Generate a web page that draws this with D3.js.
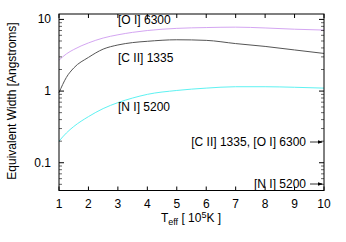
<!DOCTYPE html>
<html>
<head>
<meta charset="utf-8">
<script src="https://cdn.jsdelivr.net/npm/d3@7"></script>
<style>
  body { margin: 0; background: #fff; }
  text { font-family: "Liberation Sans", Arial, sans-serif; font-size: 12px; fill: #000; }
</style>
</head>
<body>
<svg id="chart" width="346" height="242"></svg>
<script>
var temps = [1, 1.25, 1.5, 2, 2.5, 3, 3.5, 4, 5, 6, 7, 8, 9, 10];
var oiValues = [2.7, 3.3, 3.8, 4.7, 5.5, 6.1, 6.6, 7.0, 7.5, 7.7, 7.8, 7.6, 7.3, 7.1];
var ciiValues = [0.95, 1.55, 2.1, 2.95, 3.85, 4.4, 4.75, 4.95, 5.2, 5.1, 4.6, 4.2, 3.75, 3.35];
var niValues = [0.2, 0.26, 0.32, 0.44, 0.57, 0.69, 0.8, 0.9, 1.02, 1.1, 1.15, 1.15, 1.13, 1.1];
var xTicks = [1, 2, 3, 4, 5, 6, 7, 8, 9, 10];
var yTicks = [0.1, 1, 10];

var series = [
	{ name: "[O I] 6300", values: oiValues, color: "#d4a6f2" },
	{ name: "[C II] 1335", values: ciiValues, color: "#555555" },
	{ name: "[N I] 5200", values: niValues, color: "#5ef2f2" }
];

var svg = d3.select("#chart");
var padL = 59, padR = 324, padT = 14, padB = 190.5;

var x = d3.scaleLinear().domain([1, 10]).range([padL, padR]);
var y = d3.scaleLog().domain([0.041, 11.9]).range([padB, padT]);

// minor ticks for log axis
var minor = [];
[0.01, 0.1, 1, 10].forEach(function(d){
	for (var k = 2; k <= 9; k++) {
		var v = d * k;
		if (v > 0.041 && v < 11.9) minor.push(v);
	}
});

var g = svg.append("g");

// curves
var line = d3.line()
	.x(function(d){ return x(d[0]); })
	.y(function(d){ return y(d[1]); })
	.curve(d3.curveMonotoneX);

series.forEach(function(s){
	g.append("path")
		.datum(temps.map(function(t, i){ return [t, s.values[i]]; }))
		.attr("d", line)
		.attr("fill", "none")
		.attr("stroke", s.color)
		.attr("stroke-width", 1);
});

// ticks
xTicks.forEach(function(t){
	g.append("line").attr("x1", x(t)).attr("x2", x(t)).attr("y1", padB).attr("y2", padB - 4).attr("stroke", "#000");
	g.append("line").attr("x1", x(t)).attr("x2", x(t)).attr("y1", padT).attr("y2", padT + 4).attr("stroke", "#000");
	g.append("text").attr("x", x(t)).attr("y", 208).attr("text-anchor", "middle").text(t);
});
yTicks.forEach(function(t){
	g.append("line").attr("x1", padL).attr("x2", padL + 5).attr("y1", y(t)).attr("y2", y(t)).attr("stroke", "#000");
	g.append("line").attr("x1", padR).attr("x2", padR - 5).attr("y1", y(t)).attr("y2", y(t)).attr("stroke", "#000");
	g.append("text").attr("x", 51).attr("y", y(t) + 4).attr("text-anchor", "end").text(t);
});
minor.forEach(function(t){
	g.append("line").attr("x1", padL).attr("x2", padL + 3).attr("y1", y(t)).attr("y2", y(t)).attr("stroke", "#000").attr("stroke-width", 0.6);
	g.append("line").attr("x1", padR).attr("x2", padR - 3).attr("y1", y(t)).attr("y2", y(t)).attr("stroke", "#000").attr("stroke-width", 0.6);
});

// frame
g.append("rect").attr("x", padL).attr("y", padT).attr("width", padR - padL).attr("height", padB - padT)
	.attr("fill", "none").attr("stroke", "#000").attr("stroke-width", 1);

// curve labels
g.append("text").attr("x", 118).attr("y", 24).text("[O I] 6300");
g.append("text").attr("x", 118).attr("y", 62).text("[C II] 1335");
g.append("text").attr("x", 118).attr("y", 111).text("[N I] 5200");

// right-edge markers
var markers = [
	{ label: "[C II] 1335, [O I] 6300", yPos: 142 },
	{ label: "[N I] 5200", yPos: 184 }
];
markers.forEach(function(m){
	g.append("text").attr("x", 306).attr("y", m.yPos + 4).attr("text-anchor", "end").text(m.label);
	g.append("line").attr("x1", 310).attr("x2", padR - 2).attr("y1", m.yPos).attr("y2", m.yPos).attr("stroke", "#000").attr("stroke-width", 0.8);
	g.append("path").attr("d", "M" + (padR - 1) + "," + m.yPos + "l-5,-1.8l0,3.6z").attr("fill", "#000");
});

// axis titles
g.append("text").attr("transform", "translate(16,101) rotate(-90)").attr("text-anchor", "middle")
	.text("Equivalent Width [Angstroms]");

var xt = g.append("text").attr("x", 191).attr("y", 222).attr("text-anchor", "middle");
xt.append("tspan").text("T");
xt.append("tspan").attr("dy", 3).attr("font-size", "9px").text("eff");
xt.append("tspan").attr("dy", -3).text(" [ 10");
xt.append("tspan").attr("dy", -4).attr("font-size", "9px").text("5");
xt.append("tspan").attr("dy", 4).text("K ]");
</script>
</body>
</html>
